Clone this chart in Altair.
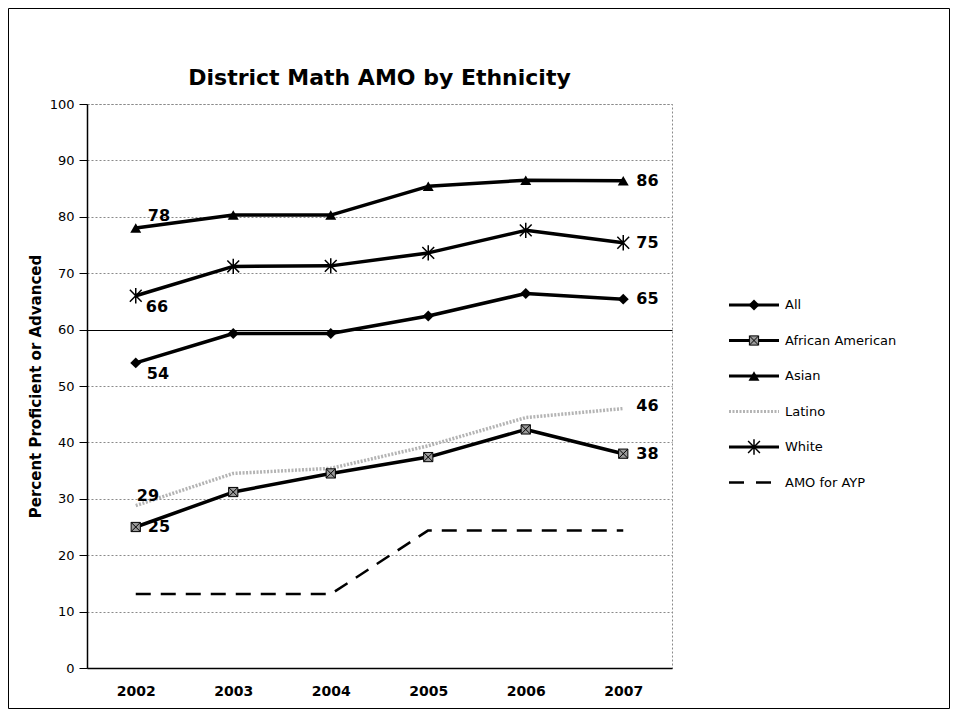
import altair as alt
import pandas as pd

# ---------------- data ----------------
years = ["2002", "2003", "2004", "2005", "2006", "2007"]
all_students = [54.1, 59.3, 59.3, 62.4, 66.4, 65.4]
african_american = [25.0, 31.2, 34.5, 37.4, 42.3, 38.0]
asian = [78.0, 80.3, 80.3, 85.4, 86.5, 86.4]
latino = [28.8, 34.5, 35.4, 39.4, 44.4, 46.0]
white = [66.0, 71.2, 71.3, 73.6, 77.6, 75.4]
amo_for_ayp = [13.1, 13.1, 13.1, 24.4, 24.4, 24.4]
series_names = ["All", "African American", "Asian", "Latino", "White", "AMO for AYP"]
series_values = [all_students, african_american, asian, latino, white, amo_for_ayp]
y_ticks = [0, 10, 20, 30, 40, 50, 60, 70, 80, 90, 100]
chart_title = "District Math AMO by Ethnicity"

FONT = "DejaVu Sans"
W, H = 585, 564

# ---------------- styles ----------------
ASTERISK = "M-1,-1L1,1M1,-1L-1,1M0,-1.3L0,1.3"
CROSS = "M-1,-1L1,1M1,-1L-1,1"
styles = {
    "All": dict(color="black", width=3.5, marker=[dict(shape="diamond", filled=True, fill="black", size=120)]),
    "African American": dict(color="black", width=3.5, marker=[
        dict(shape="square", filled=True, fill="#9a9a9a", stroke="black", strokeWidth=1, size=85),
        dict(shape=CROSS, filled=False, stroke="black", strokeWidth=1, size=85)]),
    "Asian": dict(color="black", width=3.5, marker=[dict(shape="triangle-up", filled=True, fill="black", size=120)]),
    "Latino": dict(color="#b4b4b4", width=3.5, dash=[2, 1.5], marker=[]),
    "White": dict(color="black", width=3.5, marker=[dict(shape=ASTERISK, filled=False, stroke="black", strokeWidth=1.5, size=140)]),
    "AMO for AYP": dict(color="black", width=2.5, dash=[15, 10], marker=[]),
}
# end-point label offsets (first point, last point)
first_lbl = {"All": (11, 11, "left"), "African American": (12, 0, "left"), "Asian": (12, -12, "left"),
             "Latino": (1, -10, "left"), "White": (10, 11, "left")}
last_lbl = {"All": (13, 0), "African American": (13, 0), "Asian": (13, 0), "Latino": (13, -3), "White": (13, 0)}

x_enc = alt.X("year:O", sort=years, title=None,
              axis=alt.Axis(labelAngle=0, labelFontWeight="bold", labelFontSize=14, labelFont=FONT,
                            ticks=False, labelPadding=16, domainColor="black", domainWidth=1.5,
                            grid=False, labelColor="black"))
y_enc = alt.Y("value:Q", scale=alt.Scale(domain=[0, 100], nice=False, zero=True),
              axis=alt.Axis(values=y_ticks, title="Percent Proficient or Advanced",
                            titleFont=FONT, titleFontSize=15, titleFontWeight="bold", titleColor="black",
                            titlePadding=6, labelFont=FONT, labelFontSize=13, labelColor="black",
                            labelPadding=5, tickSize=8, tickColor="black", domainColor="black",
                            domainWidth=1.5, grid=True,
                            gridColor={"condition": {"test": "datum.value === 60", "value": "#000000"}, "value": "#8a8a8a"},
                            gridDash={"condition": {"test": "datum.value === 60", "value": []}, "value": [2, 2]},
                            gridWidth=1))

layers = []

# outer frame
frame_df = pd.DataFrame({"k": [0]})
layers.append(alt.Chart(frame_df).mark_rect(filled=False, stroke="black", strokeWidth=1).encode(
    x=alt.value(-78.5), x2=alt.value(862.5), y=alt.value(-95.5), y2=alt.value(604.5)))

# chart title
title_df = pd.DataFrame({"t": [chart_title]})
layers.append(alt.Chart(title_df).mark_text(align="center", baseline="alphabetic", font=FONT, fontSize=22,
                                            fontWeight="bold", color="black").encode(
    x=alt.value(W / 2), y=alt.value(-19), text="t:N"))

draw_order = ["AMO for AYP", "Latino", "African American", "All", "White", "Asian"]
for name in draw_order:
    vals = series_values[series_names.index(name)]
    df = pd.DataFrame({"year": years, "value": vals, "series": name})
    st = styles[name]
    line_kw = dict(color=st["color"], strokeWidth=st["width"], strokeJoin="round")
    if "dash" in st:
        line_kw["strokeDash"] = st["dash"]
    layers.append(alt.Chart(df).mark_line(**line_kw).encode(x=x_enc, y=y_enc))
    for mk in st["marker"]:
        layers.append(alt.Chart(df).mark_point(opacity=1, **mk).encode(x=x_enc, y=y_enc))

# data labels
for name, (dx, dy, al) in first_lbl.items():
    vals = series_values[series_names.index(name)]
    df = pd.DataFrame({"year": [years[0]], "value": [vals[0]]})
    layers.append(alt.Chart(df).mark_text(align=al, baseline="middle", dx=dx, dy=dy, font=FONT,
                                          fontSize=16, fontWeight="bold", color="black").encode(
        x=x_enc, y=y_enc, text=alt.Text("value:Q", format=".0f")))
for name, (dx, dy) in last_lbl.items():
    vals = series_values[series_names.index(name)]
    df = pd.DataFrame({"year": [years[-1]], "value": [vals[-1]]})
    layers.append(alt.Chart(df).mark_text(align="left", baseline="middle", dx=dx, dy=dy, font=FONT,
                                          fontSize=16, fontWeight="bold", color="black").encode(
        x=x_enc, y=y_enc, text=alt.Text("value:Q", format=".0f")))

# manual legend
LEG_X0, LEG_X1, LEG_TX, LEG_Y0, LEG_DY = 642, 692, 698, 201, 35.5
for i, name in enumerate(series_names):
    st = styles[name]
    ly = LEG_Y0 + i * LEG_DY
    ldf = pd.DataFrame({"name": [name]})
    rule_kw = dict(color=st["color"], strokeWidth=min(st["width"], 3))
    if "dash" in st:
        rule_kw["strokeDash"] = [15, 12] if name == "AMO for AYP" else st["dash"]
    layers.append(alt.Chart(ldf).mark_rule(**rule_kw).encode(
        x=alt.value(LEG_X0), x2=alt.value(LEG_X1), y=alt.value(ly)))
    for mk in st["marker"]:
        layers.append(alt.Chart(ldf).mark_point(opacity=1, **mk).encode(
            x=alt.value((LEG_X0 + LEG_X1) / 2), y=alt.value(ly)))
    layers.append(alt.Chart(ldf).mark_text(align="left", baseline="middle", font=FONT, fontSize=13,
                                           color="black").encode(
        x=alt.value(LEG_TX), y=alt.value(ly), text="name:N"))

chart = alt.layer(*layers).properties(
    width=W, height=H,
    autosize=alt.AutoSizeParams(type="none"),
    padding={"left": 79, "top": 96, "right": 279, "bottom": 43},
    background="white",
).configure_view(stroke="#8a8a8a", strokeDash=[2, 2], strokeWidth=1)

chart.save("out.html", embed_options={"renderer": "svg", "actions": False})
